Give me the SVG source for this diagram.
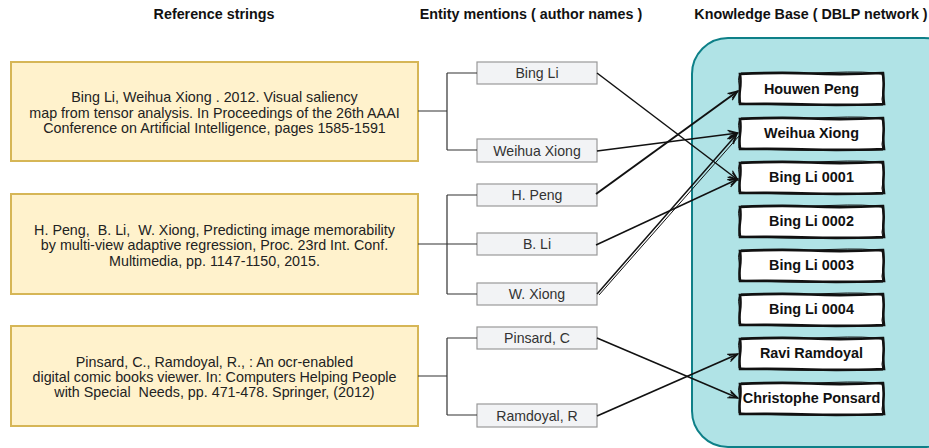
<svg xmlns="http://www.w3.org/2000/svg" width="929" height="448" viewBox="0 0 929 448">
<style>
.hdr{font-family:"Liberation Sans",Arial,sans-serif;font-size:14.3px;font-weight:bold;fill:#111;text-anchor:middle}
.ref rect{fill:#fff2cc;stroke:#d6b656;stroke-width:2}
.ref text{font-family:"Liberation Sans",Arial,sans-serif;font-size:14.3px;fill:#222;text-anchor:middle;white-space:pre}
.men rect{fill:#f2f3f5;stroke:#999;stroke-width:1.2}
.men text{font-family:"Liberation Sans",Arial,sans-serif;font-size:14.1px;fill:#333;text-anchor:middle}
.kb text{font-family:"Liberation Sans",Arial,sans-serif;font-size:14.4px;font-weight:bold;fill:#111;text-anchor:middle}
.tree path{fill:none;stroke:#333;stroke-width:1.2}
.arr line{stroke:#111;stroke-width:1.5;marker-end:url(#ah)}
</style>
<defs>
<marker id="ah" viewBox="0 0 12 10" refX="11" refY="5" markerWidth="12" markerHeight="10" markerUnits="userSpaceOnUse" orient="auto">
<path d="M1,1 L11,5 L1,9 M2,2.5 L10,5 L2,7.5" fill="none" stroke="#111" stroke-width="1.2"/>
</marker>
<g id="sk">
<path d="M1,2 Q40,0 72,1.5 T144,1 Q145,9 144.5,17 T145,32 Q100,33.5 72,32.5 T1,32 Q0,24 1,17 T1,2 Z" fill="#fff" stroke="#111" stroke-width="2.6"/>
<path d="M2,1 Q50,2 90,0.5 T143,2 Q146,12 144,20 T144,33 Q90,34 50,33 T0,31 Q1.5,20 0,12 T2,1" fill="none" stroke="#111" stroke-width="1"/>
</g>
</defs>
<rect width="929" height="448" fill="#fff"/>
<text class="hdr" x="214" y="19">Reference strings</text>
<text class="hdr" x="531" y="19">Entity mentions ( author names )</text>
<text class="hdr" x="811" y="19">Knowledge Base ( DBLP network )</text>

<g id="kb-container">
<rect x="692" y="38" width="268" height="409" rx="36" fill="#b0e3e6" stroke="#0e8088" stroke-width="2"/>
</g>

<g id="ref1" class="ref">
<rect x="11" y="62" width="407" height="99"/>
<text x="214.5" y="102">Bing Li, Weihua Xiong . 2012. Visual saliency</text>
<text x="214.5" y="118">map from tensor analysis. In Proceedings of the 26th AAAI</text>
<text x="214.5" y="133">Conference on Artificial Intelligence, pages 1585-1591</text>
</g>
<g id="ref2" class="ref">
<rect x="11" y="194" width="407" height="100"/>
<text x="214.5" y="235" xml:space="preserve">H. Peng,  B. Li,  W. Xiong, Predicting image memorability</text>
<text x="214.5" y="250">by multi-view adaptive regression, Proc. 23rd Int. Conf.</text>
<text x="214.5" y="266">Multimedia, pp. 1147-1150, 2015.</text>
</g>
<g id="ref3" class="ref">
<rect x="11" y="326" width="407" height="100"/>
<text x="214.5" y="367">Pinsard, C., Ramdoyal, R., : An ocr-enabled</text>
<text x="214.5" y="382">digital comic books viewer. In: Computers Helping People</text>
<text x="214.5" y="397" xml:space="preserve">with Special  Needs, pp. 471-478. Springer, (2012)</text>
</g>

<g id="m-bingli" class="men"><rect x="477" y="62" width="120" height="22"/><text x="537" y="78">Bing Li</text></g>
<g id="m-weihua" class="men"><rect x="477" y="139" width="120" height="23"/><text x="537" y="155.5">Weihua Xiong</text></g>
<g id="m-hpeng" class="men"><rect x="477" y="184" width="120" height="22"/><text x="537" y="200">H. Peng</text></g>
<g id="m-bli" class="men"><rect x="477" y="233" width="120" height="22"/><text x="537" y="249">B. Li</text></g>
<g id="m-wxiong" class="men"><rect x="477" y="283" width="120" height="22"/><text x="537" y="299">W. Xiong</text></g>
<g id="m-pinsard" class="men"><rect x="477" y="327" width="120" height="22"/><text x="537" y="343">Pinsard, C</text></g>
<g id="m-ramdoyal" class="men"><rect x="477" y="404" width="120" height="23"/><text x="537" y="420.5">Ramdoyal, R</text></g>

<g id="kb-houwen" class="kb"><use href="#sk" x="739" y="72"/><text x="811.5" y="94">Houwen Peng</text></g>
<g id="kb-weihua" class="kb"><use href="#sk" x="739" y="117"/><text x="811.5" y="138">Weihua Xiong</text></g>
<g id="kb-bl1" class="kb"><use href="#sk" x="739" y="161"/><text x="811.5" y="182">Bing Li 0001</text></g>
<g id="kb-bl2" class="kb"><use href="#sk" x="739" y="205"/><text x="811.5" y="226">Bing Li 0002</text></g>
<g id="kb-bl3" class="kb"><use href="#sk" x="739" y="249"/><text x="811.5" y="270">Bing Li 0003</text></g>
<g id="kb-bl4" class="kb"><use href="#sk" x="739" y="293"/><text x="811.5" y="314">Bing Li 0004</text></g>
<g id="kb-ravi" class="kb"><use href="#sk" x="739" y="337"/><text x="811.5" y="358">Ravi Ramdoyal</text></g>
<g id="kb-chris" class="kb"><use href="#sk" x="739" y="382"/><text x="811.5" y="403">Christophe Ponsard</text></g>

<g id="connectors">
<g class="tree">
<path d="M418,111 H447 M447,73 V150 M447,73 H477 M447,150 H477"/>
<path d="M418,244 H447 M447,195 V294 M447,195 H477 M447,244 H477 M447,294 H477"/>
<path d="M418,376 H447 M447,338 V415 M447,338 H477 M447,415 H477"/>
</g>
<g class="arr">
<line x1="597" y1="73" x2="738" y2="180"/>
<line x1="597" y1="151" x2="738" y2="133"/>
<line x1="596" y1="194" x2="738" y2="91" style="stroke-width:2"/>
<line x1="596" y1="245" x2="738" y2="179"/>
<line x1="597" y1="294" x2="737" y2="134"/>
<line x1="599" y1="295" x2="739" y2="136" style="stroke-width:1;marker-end:none"/>
<line x1="597" y1="338" x2="738" y2="398"/>
<line x1="597" y1="416" x2="738" y2="354" style="stroke-width:1.8"/>
</g>
</g>
</svg>
